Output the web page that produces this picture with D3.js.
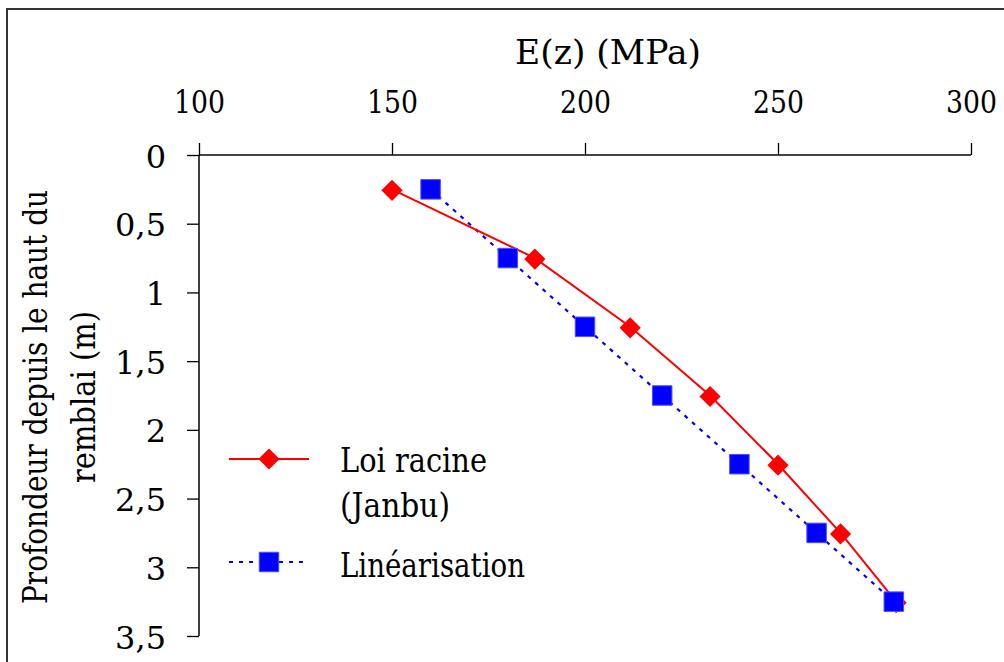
<!DOCTYPE html>
<html>
<head>
<meta charset="utf-8">
<script src="https://cdn.jsdelivr.net/npm/d3@7"></script>
<style>
  html, body { margin: 0; padding: 0; background: #fff; }
  svg { display: block; }
  text { font-family: "DejaVu Serif", "Liberation Serif", "Noto Serif", serif !important; fill: #000; }
</style>
</head>
<body>
<svg id="chart" width="1004" height="662"></svg>
<script>
// ---- Data ----
const depths = [0.25, 0.75, 1.25, 1.75, 2.25, 2.75, 3.25];
const loiRacine = [150, 187, 211.7, 232.4, 250, 266.2, 280.6];
const linearisation = [160, 180, 200, 220, 240, 260, 280];
const xTicks = [100, 150, 200, 250, 300];
const yTicks = [0, 0.5, 1, 1.5, 2, 2.5, 3, 3.5];
const xTitle = "E(z) (MPa)";
const yTitleLines = ["Profondeur depuis le haut du", "remblai (m)"];
const legendLabels = [["Loi racine", "(Janbu)"], ["Linéarisation"]];

const svg = d3.select("#chart");
svg.append("rect").attr("width", 1004).attr("height", 662).attr("fill", "#fff");
svg.append("rect").attr("x", 7).attr("y", 9).attr("width", 1020).attr("height", 680)
  .attr("fill", "none").attr("stroke", "#333").attr("stroke-width", 2);

const x = d3.scaleLinear().domain([100, 300]).range([199, 971]);
const y = d3.scaleLinear().domain([0, 3.5]).range([155, 636]);

const xAxis = d3.axisTop(x).tickValues(xTicks).tickSize(12).tickFormat(d3.format("d"));
const gx = svg.append("g").attr("transform", `translate(0,${y(0)})`).call(xAxis);
gx.attr("font-family", null);
gx.select(".domain").attr("stroke", "#444").attr("stroke-width", 2).attr("d", `M${x(100)},0H${x(300)}`);
gx.selectAll(".tick line").attr("stroke", "#000").attr("stroke-width", 1.3);
gx.selectAll(".tick text").attr("font-size", 32).attr("y", -42).attr("dy", 0)
  .attr("textLength", 51).attr("lengthAdjust", "spacingAndGlyphs");

const yFmt = d => d3.format("")(d).replace(".", ",");
const yAxis = d3.axisLeft(y).tickValues(yTicks).tickSize(12).tickFormat(yFmt);
const gy = svg.append("g").attr("transform", `translate(${x(100)},0)`).call(yAxis);
gy.attr("font-family", null);
gy.select(".domain").attr("stroke", "#000").attr("stroke-width", 1.5).attr("d", `M0,${y(0)}V${y(3.5)}`);
gy.selectAll(".tick line").attr("stroke", "#000").attr("stroke-width", 1.3);
gy.selectAll(".tick text").attr("font-size", 32).attr("x", -33).attr("dy", 12);

svg.append("text").attr("x", 515).attr("y", 64).attr("font-size", 34)
  .attr("textLength", 186).attr("lengthAdjust", "spacingAndGlyphs").text(xTitle);
const yt = svg.append("text").attr("transform", "rotate(-90)")
  .attr("text-anchor", "middle").attr("font-size", 33);
yTitleLines.forEach((t, i) => {
  yt.append("tspan").attr("x", -397).attr("y", 47 + i * 48).text(t)
    .attr("textLength", i === 0 ? 414 : 172).attr("lengthAdjust", "spacingAndGlyphs");
});

const line = d3.line().x(d => x(d[0])).y(d => y(d[1]));
const redPts = depths.map((d, i) => [loiRacine[i], d]);
const bluePts = depths.map((d, i) => [linearisation[i], d]);

svg.append("path").attr("d", line(bluePts)).attr("fill", "none")
  .attr("stroke", "#0000ff").attr("stroke-width", 2.2).attr("stroke-dasharray", "4,6");
svg.append("path").attr("d", line(redPts)).attr("fill", "none")
  .attr("stroke", "#ff0000").attr("stroke-width", 2);

const diamond = d3.symbol().type(d3.symbolSquare).size(225);
svg.selectAll(".red").data(redPts).enter().append("path")
  .attr("d", diamond)
  .attr("transform", d => `translate(${x(d[0])},${y(d[1]) + 1}) rotate(45)`)
  .attr("fill", "#ff0000");
const sq = d3.symbol().type(d3.symbolSquare).size(380);
svg.selectAll(".blue").data(bluePts).enter().append("path")
  .attr("d", sq)
  .attr("transform", d => `translate(${x(d[0])},${y(d[1])})`)
  .attr("fill", "#0000ff").attr("stroke", "#4d4dff").attr("stroke-width", 1);

const lg = svg.append("g");
lg.append("line").attr("x1", 229).attr("x2", 309).attr("y1", 459).attr("y2", 459)
  .attr("stroke", "#ff0000").attr("stroke-width", 2);
lg.append("path").attr("d", diamond).attr("transform", "translate(269,459) rotate(45)").attr("fill", "#ff0000");
lg.append("line").attr("x1", 229).attr("x2", 304).attr("y1", 562).attr("y2", 562)
  .attr("stroke", "#0000ff").attr("stroke-width", 2.2).attr("stroke-dasharray", "4,6");
lg.append("path").attr("d", sq).attr("transform", "translate(269,562)")
  .attr("fill", "#0000ff").attr("stroke", "#4d4dff").attr("stroke-width", 1);
lg.append("text").attr("x", 340).attr("y", 472).attr("font-size", 34)
  .attr("textLength", 147).attr("lengthAdjust", "spacingAndGlyphs").text(legendLabels[0][0]);
lg.append("text").attr("x", 340).attr("y", 517).attr("font-size", 34)
  .attr("textLength", 110).attr("lengthAdjust", "spacingAndGlyphs").text(legendLabels[0][1]);
lg.append("text").attr("x", 340).attr("y", 577).attr("font-size", 34)
  .attr("textLength", 185).attr("lengthAdjust", "spacingAndGlyphs").text(legendLabels[1][0]);
</script>
</body>
</html>
